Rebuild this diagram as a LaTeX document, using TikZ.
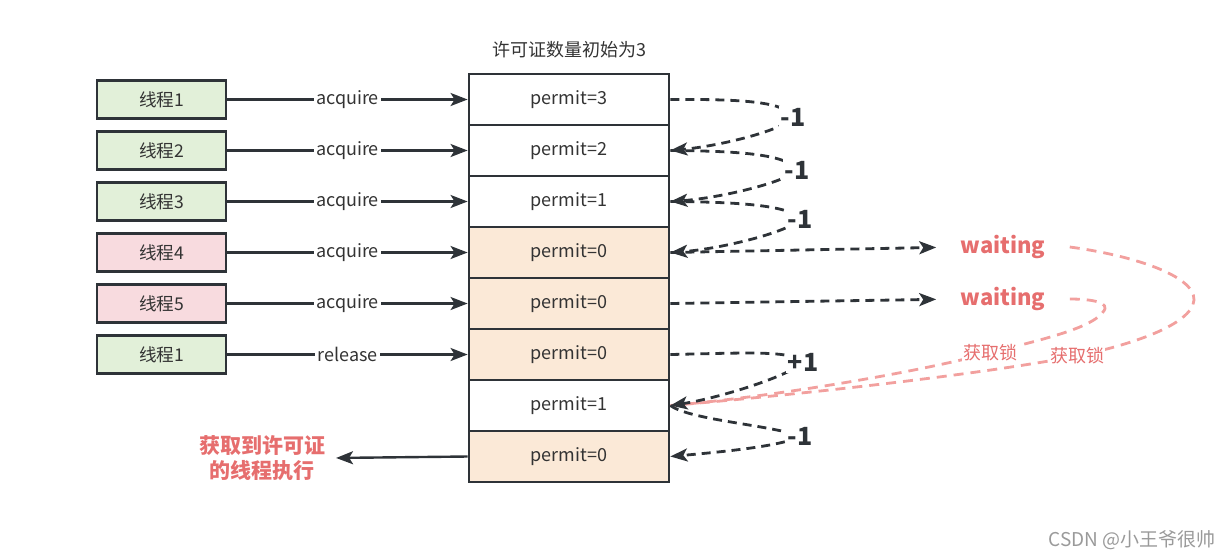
\documentclass[tikz,border=0pt]{standalone}
\usepackage{fontspec}
\setmainfont{Noto Sans CJK SC}
\usetikzlibrary{arrows.meta}
\definecolor{dk}{HTML}{2E3338}
\definecolor{tx}{HTML}{333333}
\definecolor{gfill}{HTML}{E2F0D9}
\definecolor{pfill}{HTML}{F8DBDF}
\definecolor{ofill}{HTML}{FBE9D7}
\definecolor{rtext}{HTML}{E66E6E}
\definecolor{rline}{HTML}{F2A09E}
\definecolor{wm}{HTML}{9A9A9A}
\begin{document}
\begin{tikzpicture}[x=0.5pt,y=-0.5pt,
 thread/.style={draw=dk,line width=1.4pt,minimum width=64.5pt,minimum height=19pt,inner sep=0pt,font=\fontsize{8.8}{10}\selectfont,text=tx},
 cell/.style={draw=dk,line width=1.4pt,minimum width=100pt,minimum height=25.5pt,inner sep=0pt,font=\fontsize{9}{11}\selectfont,text=tx},
 arr/.style={draw=dk,line width=1.2pt,-{Stealth[length=8.5pt,width=6.5pt,inset=2pt]}},
 dsh/.style={draw=dk,line width=1.4pt,dash pattern=on 4.5pt off 3pt},
 darr/.style={dsh,-{Stealth[length=8.5pt,width=6.5pt,inset=2pt]}},
 rdsh/.style={draw=rline,line width=1.4pt,dash pattern=on 5pt off 3.5pt},
 lab/.style={fill=white,inner sep=1pt,font=\fontsize{9}{11}\selectfont,text=tx},
 num/.style={fill=white,inner sep=1pt,font=\bfseries\fontsize{12.5}{14}\selectfont,text=dk},
 wait/.style={inner sep=1pt,font=\bfseries\fontsize{11}{13}\selectfont,text=rtext},
 lock/.style={fill=white,inner sep=0.5pt,font=\fontsize{9}{11}\selectfont,text=rtext},
 ]
\useasboundingbox (0,0) rectangle (1232,558);

% title
\node[font=\fontsize{9}{11}\selectfont,text=tx] (title) at (569,50) {许可证数量初始为3};

% permit column
\node[cell] (r1) at (569,99.5) {permit=3};
\node[cell] (r2) at (569,150.5) {permit=2};
\node[cell] (r3) at (569,201.5) {permit=1};
\node[cell,fill=ofill] (r4) at (569,252.5) {permit=0};
\node[cell,fill=ofill] (r5) at (569,303.5) {permit=0};
\node[cell,fill=ofill] (r6) at (569,354.5) {permit=0};
\node[cell] (r7) at (569,405.5) {permit=1};
\node[cell,fill=ofill] (r8) at (569,456.5) {permit=0};

% threads
\node[thread,fill=gfill] (t1) at (161.5,99.5) {线程1};
\node[thread,fill=gfill] (t2) at (161.5,150.5) {线程2};
\node[thread,fill=gfill] (t3) at (161.5,201.5) {线程3};
\node[thread,fill=pfill] (t4) at (161.5,252.5) {线程4};
\node[thread,fill=pfill] (t5) at (161.5,303.5) {线程5};
\node[thread,fill=gfill] (t6) at (161.5,354.5) {线程1};

\draw[arr] (t1) -- node[lab]{acquire} (r1);
\draw[arr] (t2) -- node[lab]{acquire} (r2);
\draw[arr] (t3) -- node[lab]{acquire} (r3);
\draw[arr] (t4) -- node[lab]{acquire} (r4);
\draw[arr] (t5) -- node[lab]{acquire} (r5);
\draw[arr] (t6) -- node[lab]{release} (r6);

% executing thread
\node[align=center,font=\bfseries\fontsize{10.5}{12.5}\selectfont,text=rtext] (exec) at (262,458) {获取到许可证\\的线程执行};
\draw[arr,shorten >=2pt] (r8.west) -- (exec.east);

% waiting
\node[wait] (w1) at (1003,247) {waiting};
\node[wait] (w2) at (1003,299) {waiting};

% label positions
\coordinate (m1) at (793,117);
\coordinate (m2) at (797,170);
\coordinate (m3) at (800,219);
\coordinate (p1) at (803,362);
\coordinate (m4) at (800,436);
\coordinate (L1) at (990,353);
\coordinate (L2) at (1077,356);

% red dashed curves
\draw[rdsh] ([xshift=11pt]w1.east) .. controls (1130,255) and (1195,275) .. (1194,300)
  .. controls (1192,325) and (1130,345) .. (L2)
  .. controls (960,378) and (760,398) .. (r7.east);
\draw[rdsh] ([xshift=11pt]w2.east) .. controls (1090,299) and (1112,302) .. (1103,312)
  .. controls (1090,330) and (1030,342) .. (L1)
  .. controls (900,376) and (760,398) .. (r7.east);

% dark dashed curves
\draw[darr] (r1.east) .. controls (745,99) and (785,102) .. (m1)
  .. controls (785,130) and (720,146) .. (r2.east);
\draw[darr] (r2.east) .. controls (745,151) and (787,155) .. (m2)
  .. controls (787,182) and (720,198) .. (r3.east);
\draw[darr] (r3.east) .. controls (745,202) and (790,206) .. (m3)
  .. controls (790,232) and (720,249) .. (r4.east);
\draw[darr] (r6.east) .. controls (745,353) and (792,350) .. (p1)
  .. controls (792,375) and (720,398) .. (r7.east);
\draw[darr] (r7.east) .. controls (690,420) and (770,425) .. (m4)
  .. controls (785,446) and (720,452) .. (r8.east);
\draw[darr,shorten >=11pt] (r4.east) -- (w1.west);
\draw[darr,shorten >=11pt] (r5.east) -- (w2.west);

% labels on curves
\node[num] at (m1) {-1};
\node[num] at (m2) {-1};
\node[num] at (m3) {-1};
\node[num] at (p1) {+1};
\node[num] at (m4) {-1};
\node[lock] at (L1) {获取锁};
\node[lock] at (L2) {获取锁};

% watermark
\node[font=\fontsize{9.5}{11}\selectfont,text=wm] (wmk) at (1132,540) {CSDN @小王爷很帅};
\end{tikzpicture}
\end{document}
